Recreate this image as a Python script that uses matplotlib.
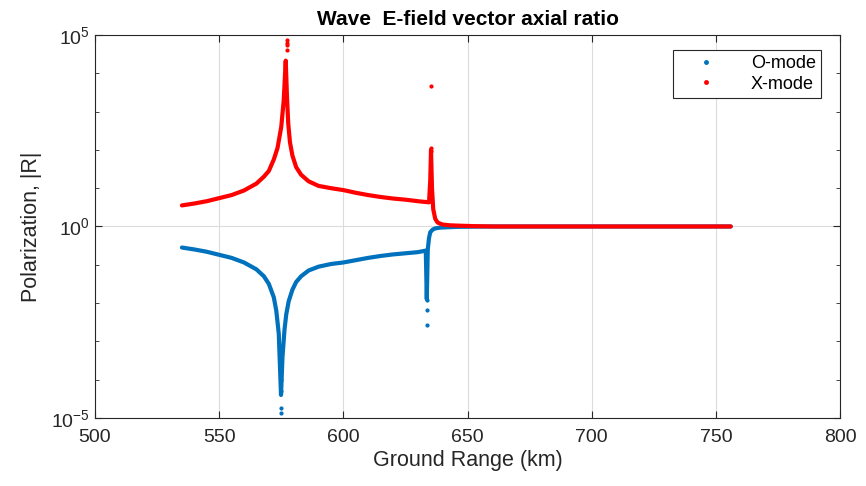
import numpy as np
import matplotlib.pyplot as plt
from matplotlib.lines import Line2D
from matplotlib.ticker import LogLocator, NullFormatter

plt.rcParams['font.family'] = ['Liberation Sans', 'DejaVu Sans']

# ground range (km) and log10 of |R|
x_range_km = [535, 540, 545, 550, 555, 560, 565, 568, 570, 572, 573.5, 575, 576, 576.8,
              577.3, 577.8, 578.5, 579.5, 581, 583, 586, 590, 595, 600, 605, 610, 615,
              620, 625, 630, 634.5, 635, 635.3, 635.7, 636.2, 637, 638, 640, 643, 647,
              652, 660, 680, 700, 720, 740, 756]
x_log10 = [0.55, 0.60, 0.66, 0.74, 0.82, 0.94, 1.12, 1.3, 1.45, 1.75, 2.05, 2.6, 3.3, 4.33,
           3.4, 2.7, 2.2, 1.85, 1.55, 1.35, 1.18, 1.06, 1.0, 0.95, 0.88, 0.82, 0.77,
           0.73, 0.70, 0.66, 0.63, 1.2, 2.0, 1.0, 0.45, 0.2, 0.1, 0.05, 0.03, 0.02,
           0.01, 0.0, 0.0, 0.0, 0.0, 0.0, 0.0]

o_range_km = [535, 540, 545, 550, 555, 560, 565, 568, 570, 572, 573, 574, 574.9, 575.5,
              576.3, 577, 578, 579.5, 581, 583, 586, 590, 595, 600, 605, 610, 615,
              620, 625, 630, 633.2, 633.6, 634.0, 634.5, 635, 636, 637, 639, 642, 646,
              652, 660, 680, 700, 720, 740, 756]
o_log10 = [-0.55, -0.60, -0.66, -0.74, -0.82, -0.94, -1.12, -1.3, -1.5, -1.85, -2.2, -2.8, -4.4, -3.4,
           -2.7, -2.3, -1.95, -1.65, -1.45, -1.3, -1.15, -1.05, -0.98, -0.94, -0.88, -0.82, -0.77,
           -0.73, -0.70, -0.67, -0.63, -1.9, -0.6, -0.3, -0.15, -0.08, -0.05, -0.03, -0.02, -0.01,
           -0.005, 0.0, 0.0, 0.0, 0.0, 0.0, 0.0]

# scattered samples near the resonances
x_dots_km = [577.3, 577.3, 577.3, 577.3, 635.3, 635.3, 635.3]
x_dots_log10 = [4.86, 4.80, 4.74, 4.6, 3.66, 2.06, 1.98]
o_dots_km = [574.9, 574.9, 574.9, 574.9, 633.6, 633.6, 633.6]
o_dots_log10 = [-4.0, -4.3, -4.75, -4.86, -1.93, -2.19, -2.58]

blue = '#0072BD'
red = '#FF0000'
ink = '#262626'

fig = plt.figure(figsize=(8.66, 4.86), dpi=100)
ax = fig.add_axes([0.1097, 0.140, 0.8603, 0.788])

ax.plot(o_range_km, 10.0 ** np.array(o_log10), color=blue, lw=3, solid_capstyle='round')
ax.plot(x_range_km, 10.0 ** np.array(x_log10), color=red, lw=3, solid_capstyle='round')
ax.plot(o_dots_km, 10.0 ** np.array(o_dots_log10), '.', color=blue, ms=4)
ax.plot(x_dots_km, 10.0 ** np.array(x_dots_log10), '.', color=red, ms=4)

ax.set_yscale('log')
ax.set_xlim(500, 800)
ax.set_ylim(1e-5, 1e5)
ax.set_xticks(range(500, 801, 50))
ax.set_yticks([1e-5, 1e0, 1e5])
ax.yaxis.set_minor_locator(LogLocator(base=10, subs=(1.0,), numticks=20))
ax.yaxis.set_minor_formatter(NullFormatter())
ax.tick_params(which='both', direction='in', top=True, right=True, labelsize=14, colors=ink)
ax.tick_params(which='major', length=5)
ax.tick_params(which='minor', length=3)
ax.tick_params(axis='x', pad=8)
ax.tick_params(axis='y', pad=4)
ax.grid(True, which='major', color='#dcdcdc', lw=0.8)
for s in ax.spines.values():
    s.set_color(ink)

ax.set_title('Wave  E-field vector axial ratio', fontsize=15, fontweight='bold', pad=7)
ax.set_xlabel('Ground Range (km)', fontsize=15.5, color=ink, labelpad=3)
ax.set_ylabel('Polarization, |R|', fontsize=15.5, color=ink, labelpad=6)

handles = [Line2D([], [], ls='none', marker='.', ms=5, color=blue),
           Line2D([], [], ls='none', marker='.', ms=5, color=red)]
leg = ax.legend(handles, ['O-mode', 'X-mode'], loc='upper right', fontsize=13,
                fancybox=False, edgecolor=ink, framealpha=1,
                bbox_to_anchor=(0.987, 0.985), handlelength=3.0,
                borderpad=0.3, labelspacing=0.2, handletextpad=1.0)
leg.get_frame().set_linewidth(0.8)

fig.savefig('out.png', dpi=100)
